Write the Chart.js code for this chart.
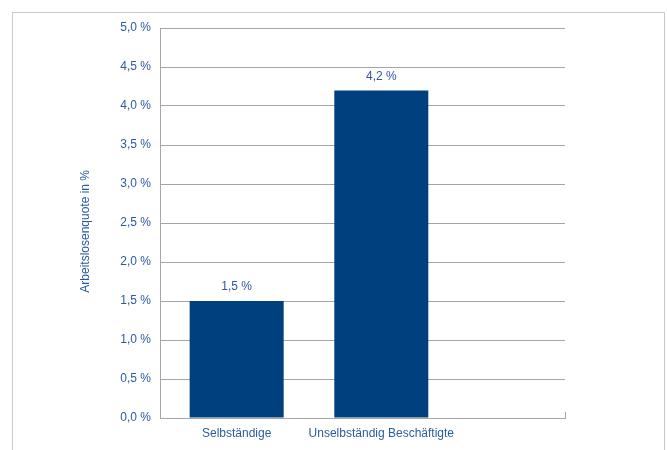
<!DOCTYPE html>
<html lang="de">
<head>
<meta charset="UTF-8">
<title>Arbeitslosenquote</title>
<script src="https://cdn.jsdelivr.net/npm/chart.js"></script>
<style>
    body { margin: 0; background: #fff; font-family: Arial, "Liberation Sans", sans-serif; }
    .wrap { position: relative; width: 667px; height: 450px; overflow: hidden; }
    .frame { position: absolute; left: 12px; top: 12px; width: 651px; height: 460px; border: 1px solid #c9c9c9; pointer-events: none; }
    canvas { position: absolute; left: 0; top: 0; }
</style>
</head>
<body>
<div class="wrap">
    <canvas id="chart" width="667" height="450"></canvas>
    <div class="frame"></div>
</div>
<script>
    // Daten
    const categories = ['Selbständige', 'Unselbständig Beschäftigte'];
    const quoten = [1.5, 4.2];
    const yTitle = 'Arbeitslosenquote in %';

    // Kategorie-Positionen auf der x-Achse (Plotbereich reicht bis 2,8)
    const xPos = categories.map((c, i) => i + 0.53);

    function fmt(v) {
        return v.toFixed(1).replace('.', ',') + ' %';
    }

    const valueLabels = {
        id: 'valueLabels',
        afterDatasetsDraw(chart) {
            const ctx = chart.ctx;
            const meta = chart.getDatasetMeta(0);
            ctx.save();
            ctx.font = '12px Arial';
            ctx.fillStyle = '#3452a6';
            ctx.textAlign = 'center';
            ctx.textBaseline = 'bottom';
            meta.data.forEach((bar, i) => {
                ctx.fillText(fmt(quoten[i]), bar.x, bar.y - 8);
            });
            // kleiner Strich am rechten Ende der x-Achse
            const a = chart.chartArea;
            ctx.strokeStyle = '#a6a6a6';
            ctx.lineWidth = 1;
            ctx.beginPath();
            ctx.moveTo(Math.round(a.right) + 0.5, a.bottom);
            ctx.lineTo(Math.round(a.right) + 0.5, a.bottom - 6);
            ctx.stroke();
            ctx.restore();
        }
    };

    new Chart(document.getElementById('chart'), {
        type: 'bar',
        data: {
            datasets: [{
                data: quoten.map((v, i) => ({ x: xPos[i], y: v })),
                backgroundColor: '#00407f',
                borderWidth: 0,
                barPercentage: 0.65,
                categoryPercentage: 1
            }]
        },
        options: {
            responsive: false,
            animation: false,
            layout: { padding: { left: 78, right: 102, top: 28, bottom: 0 } },
            plugins: { legend: { display: false }, tooltip: { enabled: false } },
            scales: {
                x: {
                    type: 'linear',
                    min: 0,
                    max: 2.8,
                    offset: false,
                    afterBuildTicks: s => { s.ticks = xPos.map(v => ({ value: v })); },
                    afterFit: s => { s.height = 32; },
                    grid: { display: false },
                    border: { display: true, color: '#a6a6a6', width: 1 },
                    ticks: {
                        padding: 0,
                        autoSkip: false,
                        maxRotation: 0,
                        color: '#2c5aa0',
                        font: { family: 'Arial', size: 12 },
                        callback: (v, i) => categories[i]
                    }
                },
                y: {
                    min: 0,
                    max: 5,
                    afterFit: s => { s.width = 82; },
                    ticks: {
                        stepSize: 0.5,
                        padding: 9,
                        color: '#2c5aa0',
                        font: { family: 'Arial', size: 12 },
                        callback: v => fmt(v)
                    },
                    grid: { color: '#a6a6a6', lineWidth: 1, drawTicks: false },
                    border: { display: true, color: '#a6a6a6', width: 1 },
                    title: {
                        display: true,
                        // Leerzeichen am Ende schieben den Titel etwas nach unten
                        text: yTitle + '\u00a0\u00a0\u00a0\u00a0\u00a0',
                        color: '#2c5aa0',
                        font: { family: 'Arial', size: 12 },
                        padding: 0
                    }
                }
            }
        },
        plugins: [valueLabels]
    });
</script>
</body>
</html>
